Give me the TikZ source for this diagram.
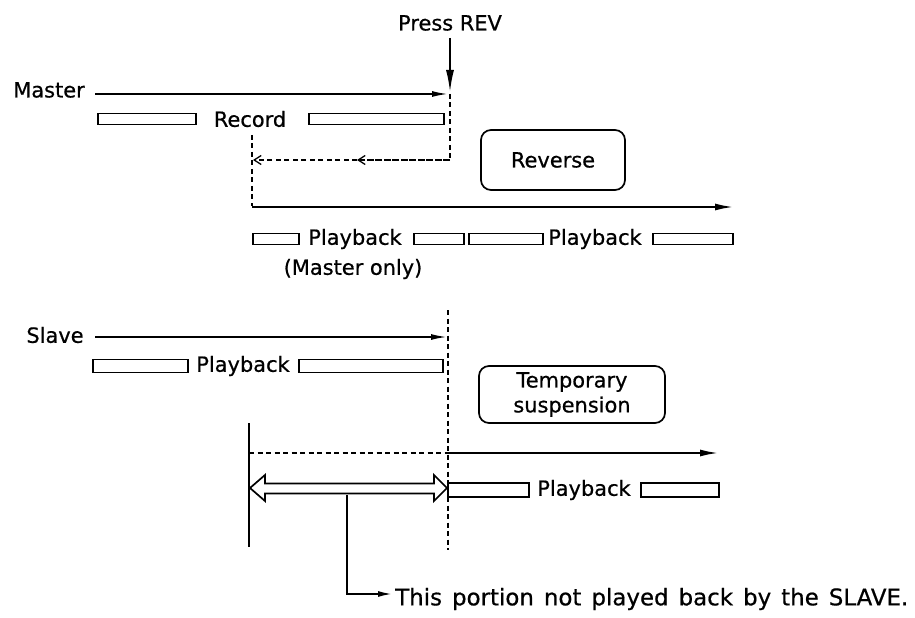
\documentclass[tikz,border=0pt]{standalone}
\usepackage{fontspec}
\setmainfont{DejaVu Sans}[FakeBold=0.6]
\usetikzlibrary{arrows.meta}
\newcommand{\widespaces}{\spaceskip=10bp\relax}
\begin{document}
\begin{tikzpicture}[x=1bp,y=-1bp,
  lbl/.style={font=\fontsize{21}{25}\selectfont, inner sep=0pt},
  tape/.style={draw, line width=1.7bp, inner sep=0pt, minimum height=11bp, anchor=west},
  sol/.style={line width=1.7bp},
  arr/.style={sol, -{Latex[length=16bp,width=6bp]}},
  dsh/.style={line width=1.3bp, dash pattern=on 5bp off 3.5bp},
  barb/.style={dsh, -{Straight Barb[length=7bp,width=9bp]}},
  boxs/.style={lbl, draw, line width=1.7bp, rounded corners=10bp, align=center}
]
\useasboundingbox (0,0) rectangle (915,618);

% ---------- Master ----------
\node[lbl] (press) at (450,23) {Press REV};
\coordinate (pressend) at (450,92);
\draw[sol, -{Latex[length=22bp,width=8bp]}] (450,38) -- (pressend);

\node[lbl] (master) at (49,90) {Master};
\coordinate (mstart) at (95,94);
\coordinate (mend) at (448,94);
\draw[arr] (mstart) -- (mend);

\node[tape, minimum width=98bp] (r1) at (97,119) {};
\node[lbl] (record) at (250,119) {Record};
\node[tape, minimum width=135bp] (r2) at (308,119) {};

\coordinate (d0) at (450,94);
\coordinate (d1) at (450,160);
\coordinate (d2) at (357,160);
\coordinate (d3) at (253,160);
\draw[dsh] (d0) -- (d1) -- (d2);
\draw[barb] (d1) -- (d2);
\draw[barb] (d2) -- (d3);
\coordinate (v0) at (252,135);
\coordinate (v1) at (252,206);
\draw[dsh] (v0) -- (v1);

\node[boxs, minimum width=144bp, minimum height=60bp] (reverse) at (553,160) {Reverse};

\coordinate (pstart) at (252,207);
\coordinate (pend) at (733,207);
\draw[sol, -{Latex[length=18bp,width=7bp]}] (pstart) -- (pend);

\node[tape, minimum width=46bp] (p1) at (252,239) {};
\node[lbl] (pb1) at (355,239) {Playback};
\node[tape, minimum width=50bp] (p2) at (413,239) {};
\node[tape, minimum width=74bp] (p3) at (468,239) {};
\node[lbl] (pb2) at (595,239) {Playback};
\node[tape, minimum width=80bp] (p4) at (652,239) {};
\node[lbl] (monly) at (353,269) {(Master only)};

% ---------- Slave ----------
\node[lbl] (slave) at (55,335) {Slave};
\coordinate (sstart) at (95,337);
\coordinate (send) at (447,337);
\draw[arr] (sstart) -- (send);

\node[tape, minimum width=95bp, minimum height=13bp] (s1) at (92,366) {};
\node[lbl] (spb) at (243,366) {Playback};
\node[tape, minimum width=144bp, minimum height=13bp] (s2) at (298,366) {};

\coordinate (sv0) at (448,310);
\coordinate (sv1) at (448,550);
\draw[dsh] (sv0) -- (sv1);

\node[boxs, minimum width=186bp, minimum height=57bp] (temp) at (572,394.5) {Temporary\\suspension};

\coordinate (l0) at (249,423);
\coordinate (l1) at (249,547);
\draw[sol] (l0) -- (l1);

\coordinate (h0) at (249,453);
\coordinate (h1) at (448,453);
\coordinate (h2) at (718,453);
\draw[dsh] (h0) -- (h1);
\draw[sol, -{Latex[length=18bp,width=7bp]}] (h1) -- (h2);

\draw[sol, fill=white, line join=miter]
  (250,488) -- (265,475) -- (265,483.5) -- (434,483.5) -- (434,475) -- (447,488)
  -- (434,501) -- (434,493.5) -- (265,493.5) -- (265,501) -- cycle;

\node[tape, minimum width=81bp, minimum height=14bp] (b1) at (447,490) {};
\node[lbl] (bpb) at (584,490) {Playback};
\node[tape, minimum width=78bp, minimum height=14bp] (b2) at (640,490) {};

\node[lbl, font=\fontsize{23}{27}\selectfont, anchor=west] (note) at (395,599) {\widespaces This portion not played back by the SLAVE.};
\coordinate (nstart) at (347,495);
\coordinate (ncorner) at (347,594);
\coordinate (ntip) at (392,594);
\draw[sol, -{Latex[length=14bp,width=6bp]}] (nstart) -- (ncorner) -- (ntip);
\end{tikzpicture}
\end{document}
